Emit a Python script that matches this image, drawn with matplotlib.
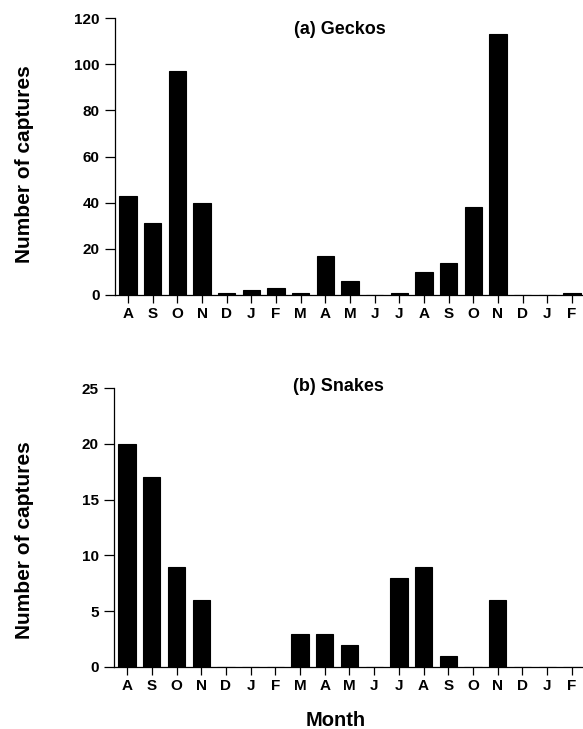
import matplotlib
matplotlib.use("Agg")
import matplotlib.pyplot as plt
import numpy as np

months = ["A", "S", "O", "N", "D", "J", "F", "M", "A", "M", "J", "J", "A", "S", "O", "N", "D", "J", "F"]
geckos = [43, 31, 97, 40, 1, 2, 3, 1, 17, 6, 0, 1, 10, 14, 38, 113, 0, 0, 1]
snakes = [20, 17, 9, 6, 0, 0, 0, 3, 3, 2, 0, 8, 9, 1, 0, 6, 0, 0, 0]

plt.rcParams['font.family'] = ['Liberation Sans', 'DejaVu Sans']
plt.rcParams['font.weight'] = 'bold'

fig = plt.figure(figsize=(5.83, 7.29), dpi=100)
W, H = 583, 729

def add_ax(left, top, right, bottom):
    return fig.add_axes([left / W, 1 - bottom / H, (right - left) / W, (bottom - top) / H])

ax1 = add_ax(115, 18, 583, 295)
ax2 = add_ax(114, 388, 583, 667)

x = np.arange(len(months))

def style(ax, vals, ymax, step, title, tx, ty):
    ax.bar(x, vals, width=0.7, color='black', edgecolor='black', linewidth=0.8)
    ax.set_xlim(-0.53, len(months) - 0.55)
    ax.set_ylim(0, ymax)
    ax.set_yticks(np.arange(0, ymax + 1, step))
    ax.set_xticks(x)
    ax.set_xticklabels(months)
    for s in ['top', 'right']:
        ax.spines[s].set_visible(False)
    for s in ['left', 'bottom']:
        ax.spines[s].set_linewidth(0.9)
    ax.tick_params(axis='x', direction='out', length=6, width=0.9, pad=3, labelsize=11)
    ax.tick_params(axis='y', direction='out', length=7, width=0.9, pad=4, labelsize=11)
    for lab in ax.get_xticklabels() + ax.get_yticklabels():
        lab.set_fontweight('bold')
    ax.text(tx, ty, title, transform=ax.transAxes, ha='center', va='center',
            fontsize=13, fontweight='bold')

style(ax1, geckos, 120, 20, "(a) Geckos", 0.481, 0.957)
style(ax2, snakes, 25, 5, "(b) Snakes", 0.478, 1.007)

for yc in (164, 540):
    fig.text(25 / W, 1 - yc / H, "Number of captures", rotation=90, ha='center', va='center',
             fontsize=15, fontweight='bold')

fig.text(336 / W, 1 - 720 / H, "Month", ha='center', va='center', fontsize=14.5, fontweight='bold')

fig.savefig("out.png", dpi=100)
